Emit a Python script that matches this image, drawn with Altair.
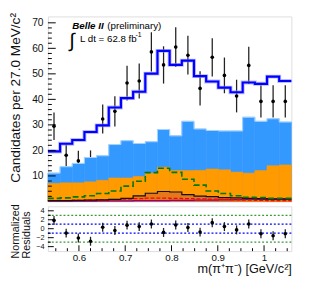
import altair as alt
import pandas as pd

# ---------------- data ----------------
x_min = 0.533
bin_width = 0.0263
n_bins = 20

data_counts = [29.5, 18.1, 15.9, 16.0, 32.3, 35.3, 46.4, 47.2, 58.6, 53.5,
               60.5, 57.3, 44.3, 56.5, 49.4, 41.3, 53.3, 39.2, 39.2, 39.2]
data_err = [5.4, 4.3, 4.0, 4.0, 5.7, 5.9, 6.8, 6.9, 7.7, 7.3,
            7.8, 7.6, 6.7, 7.5, 7.0, 6.4, 7.3, 6.3, 6.3, 6.3]
fit_total = [19.6, 22.6, 24.1, 27.2, 29.8, 36.8, 40.5, 43.0, 50.1, 59.0,
             53.5, 55.2, 49.1, 47.0, 44.6, 42.8, 46.6, 46.1, 48.9, 47.2]
bkg_blue = [11.1, 13.6, 14.9, 17.2, 17.9, 22.3, 23.8, 22.7, 23.4, 28.2,
            25.7, 31.4, 28.4, 27.8, 27.6, 27.6, 33.0, 31.4, 32.4, 31.1]
bkg_orange = [7.1, 7.3, 7.3, 7.7, 8.3, 9.2, 9.2, 9.8, 11.1, 13.4,
              12.1, 12.1, 12.2, 12.7, 12.4, 11.5, 11.1, 12.1, 14.0, 14.3]
comp_green = [1.2, 1.4, 1.8, 2.2, 3.1, 4.1, 6.0, 7.9, 11.3, 13.0,
              11.4, 8.7, 6.4, 4.1, 3.1, 2.2, 1.6, 1.5, 1.2, 1.2]
comp_black = [0.3, 0.3, 0.4, 0.5, 0.6, 0.8, 1.2, 2.2, 3.2, 3.9,
              3.7, 2.7, 2.1, 1.9, 1.5, 1.4, 1.2, 1.1, 1.0, 1.0]
comp_red = [0.3, 0.3, 0.4, 0.5, 0.6, 0.7, 0.9, 1.1, 1.3, 1.3,
            1.2, 1.1, 1.0, 0.9, 0.8, 0.6, 0.5, 0.4, 0.3, 0.3]
comp_purple = [0.1, 0.1, 0.1, 0.1, 0.2, 0.2, 0.2, 0.3, 0.3, 0.3,
               0.4, 0.4, 0.5, 0.5, 0.6, 0.7, 0.8, 0.8, 0.8, 0.8]
residuals = [1.85, -0.98, -2.07, -2.8, 0.33, -0.4, 0.8, 0.47, 1.05, -0.83,
             0.83, 0.26, -0.76, 1.35, 0.47, -0.26, 1.05, -1.13, -1.57, -1.13]

y_ticks_main = [10, 20, 30, 40, 50, 60, 70]
y_minor_main = [v for v in range(2, 72, 2) if v % 10 != 0]
x_ticks = [0.6, 0.7, 0.8, 0.9, 1.0]
x_minor = [0.55, 0.575, 0.625, 0.65, 0.675, 0.725, 0.75, 0.775, 0.825, 0.85,
           0.875, 0.925, 0.95, 0.975, 1.025, 1.05]
res_ticks = [-4, -2, 0, 2, 4]
res_minor = [-3, -1, 1, 3]
res_green = [-3, 3]
res_blue = [-1, 1]

# ---------------- helpers ----------------
edges_lo = [x_min + i * bin_width for i in range(n_bins)]
centers = [lo + bin_width / 2 for lo in edges_lo]
x_hi = x_min + n_bins * bin_width


def step_df(values):
    rows = []
    for i, v in enumerate(values):
        rows.append({"x": edges_lo[i], "y": v, "k": 2 * i})
        rows.append({"x": edges_lo[i] + bin_width, "y": v, "k": 2 * i + 1})
    return pd.DataFrame(rows)


def bin_df(values):
    return pd.DataFrame({"x0": edges_lo,
                         "x1": [e + bin_width for e in edges_lo],
                         "y": values, "z": [0.0] * n_bins})


FONT = "Liberation Sans"
W = 250
H_MAIN = 190
H_RES = 46

xs = alt.Scale(domain=[x_min, x_hi], nice=False, zero=False)
ys = alt.Scale(domain=[0, 72.5], nice=False, zero=False)
rs = alt.Scale(domain=[-5, 5], nice=False, zero=False)

main_axis = alt.Axis(values=y_ticks_main, title="Candidates per 27.0 MeV/c²",
                     grid=False, domain=False, ticks=False, tickSize=0,
                     labelPadding=5, labelFontSize=10.5, labelFont=FONT,
                     labelColor="#111", titleFont=FONT, titleFontSize=14,
                     titleFontWeight="normal", titleColor="#111",
                     titleAngle=270, titleAlign="right", titleBaseline="alphabetic",
                     titleX=-29, titleY=-4)


def XM(field="x"):
    return alt.X(field, type="quantitative", scale=xs, axis=None)


def YM(field="y"):
    return alt.Y(field, type="quantitative", scale=ys, axis=main_axis, stack=None)


def hist_fill(values, color):
    return alt.Chart(bin_df(values)).mark_rect(
        color=color, opacity=1, stroke=color, strokeWidth=0.6).encode(
        x=XM("x0"), x2="x1", y=YM("y"), y2="z")


def step_line(values, color, **kw):
    return alt.Chart(step_df(values)).mark_line(color=color, **kw).encode(
        x=XM(), y=YM(), order=alt.Order("k:Q"))


pts = pd.DataFrame({
    "x": centers, "y": data_counts,
    "lo": [c - e for c, e in zip(data_counts, data_err)],
    "hi": [c + e for c, e in zip(data_counts, data_err)],
})

err_main = alt.Chart(pts).mark_rule(color="#222", strokeWidth=1.3).encode(
    x=XM(), y=YM("lo"), y2="hi")
dot_main = alt.Chart(pts).mark_circle(color="black", size=14, opacity=1).encode(
    x=XM(), y=YM())

blue_area = hist_fill(bkg_blue, "#3399ff")
blue_edge = step_line(bkg_blue, "#a8d4ff", strokeWidth=1)
orange_area = hist_fill(bkg_orange, "#ff9a00")
hatch_area = hist_fill(comp_black, "#e4781c")
red_line = step_line(comp_red, "#ff0000", strokeWidth=1.3, strokeDash=[4, 2])
purple_line = step_line(comp_purple, "#8000a0", strokeWidth=1.3)
black_line = step_line(comp_black, "#111", strokeWidth=1.2)
green_line = step_line(comp_green, "#007a00", strokeWidth=1.6, strokeDash=[6, 3])
fit_halo = step_line(fit_total, "#8c8cff", strokeWidth=4, opacity=0.6)
fit_line = step_line(fit_total, "#0000ff", strokeWidth=2.2)

tick_major = alt.Chart(pd.DataFrame({"v": y_ticks_main})).mark_rule(
    color="black", strokeWidth=1).encode(y=YM("v"), x=alt.value(0), x2=alt.value(8))
tick_minor = alt.Chart(pd.DataFrame({"v": y_minor_main})).mark_rule(
    color="black", strokeWidth=1).encode(y=YM("v"), x=alt.value(0), x2=alt.value(4))

one = pd.DataFrame({"a": [0]})
txt_belle = alt.Chart(one).mark_text(text="Belle II", font=FONT, fontSize=10,
                                     fontStyle="italic", fontWeight="bold",
                                     align="left", baseline="alphabetic").encode(
    x=alt.value(25), y=alt.value(13))
txt_prelim = alt.Chart(one).mark_text(text="(preliminary)", font=FONT, fontSize=10,
                                      align="left", baseline="alphabetic").encode(
    x=alt.value(61), y=alt.value(13))
txt_int = alt.Chart(one).mark_text(text="∫", font=FONT, fontSize=20,
                                   align="left", baseline="alphabetic").encode(
    x=alt.value(22), y=alt.value(31))
txt_lumi = alt.Chart(one).mark_text(text="L dt = 62.8 fb", font=FONT, fontSize=10,
                                    align="left", baseline="alphabetic").encode(
    x=alt.value(33), y=alt.value(26))
txt_sup = alt.Chart(one).mark_text(text="-1", font=FONT, fontSize=7,
                                   align="left", baseline="alphabetic").encode(
    x=alt.value(90), y=alt.value(21))

main = alt.layer(
    err_main, dot_main, blue_area, blue_edge, orange_area, hatch_area, purple_line,
    red_line, black_line, green_line, fit_halo, fit_line, tick_major, tick_minor,
    txt_belle, txt_prelim, txt_int, txt_lumi, txt_sup
).properties(width=W, height=H_MAIN)

# ---------------- residual panel ----------------
res_axis = alt.Axis(values=res_ticks, title=["Normalized", "Residuals"],
                    grid=False, domain=False, ticks=False, tickSize=0,
                    labelPadding=4, labelFontSize=7.5, labelFont=FONT,
                    labelColor="#111", titleFont=FONT, titleFontSize=11,
                    titleFontWeight="normal", titleColor="#111",
                    titleAngle=270, titleAlign="left", titleBaseline="alphabetic",
                    titleX=-30, titleY=53, titleLineHeight=11.5)
res_x_axis = alt.Axis(values=x_ticks, title="m(π⁺π⁻) [GeV/c²]",
                      labelExpr="datum.value == 1 ? '1' : format(datum.value, '.1f')",
                      grid=False, domain=False, ticks=False, tickSize=0,
                      labelPadding=2, labelFontSize=10, labelFont=FONT,
                      labelColor="#111", titleFont=FONT, titleFontSize=13,
                      titleFontWeight="normal", titleColor="#111",
                      titleAnchor="end", titlePadding=0)


def XR(field="x"):
    return alt.X(field, type="quantitative", scale=xs, axis=res_x_axis)


def YR(field="y"):
    return alt.Y(field, type="quantitative", scale=rs, axis=res_axis)


rdf = pd.DataFrame({
    "x": centers, "y": residuals,
    "lo": [r - 1 for r in residuals], "hi": [r + 1 for r in residuals],
})

green_rules = alt.Chart(pd.DataFrame({"y": res_green})).mark_rule(
    color="#3a9a3a", strokeWidth=1.3, strokeDash=[2, 2]).encode(y=YR())
blue_rules = alt.Chart(pd.DataFrame({"y": res_blue})).mark_rule(
    color="#0000ff", strokeWidth=1.3, strokeDash=[2, 2]).encode(y=YR())
err_res = alt.Chart(rdf).mark_rule(color="#222", strokeWidth=1.3).encode(
    x=XR(), y=YR("lo"), y2="hi")
dot_res = alt.Chart(rdf).mark_circle(color="black", size=14, opacity=1).encode(
    x=XR(), y=YR())
rt_major = alt.Chart(pd.DataFrame({"y": res_ticks})).mark_rule(
    color="black", strokeWidth=1).encode(y=YR(), x=alt.value(0), x2=alt.value(6))
rt_minor = alt.Chart(pd.DataFrame({"y": res_minor})).mark_rule(
    color="black", strokeWidth=1).encode(y=YR(), x=alt.value(0), x2=alt.value(3))
xt_major = alt.Chart(pd.DataFrame({"x": x_ticks})).mark_rule(
    color="black", strokeWidth=1).encode(x=XR(), y=alt.value(H_RES), y2=alt.value(H_RES - 6))
xt_minor = alt.Chart(pd.DataFrame({"x": x_minor})).mark_rule(
    color="black", strokeWidth=1).encode(x=XR(), y=alt.value(H_RES), y2=alt.value(H_RES - 3))

resid = alt.layer(
    green_rules, blue_rules, err_res, dot_res, rt_major, rt_minor, xt_major, xt_minor
).properties(width=W, height=H_RES)

chart = alt.vconcat(main, resid, spacing=5, bounds="flush").properties(
    padding={"left": 0, "top": 0, "right": 5, "bottom": 0}
).configure_view(stroke="black", strokeWidth=2).configure(background="white")

chart.save("out.html", embed_options={"renderer": "svg", "actions": False})
